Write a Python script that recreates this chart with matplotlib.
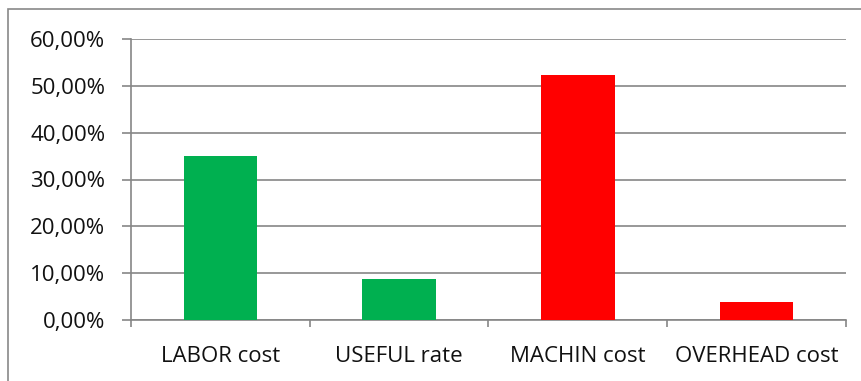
import matplotlib.pyplot as plt
from matplotlib.patches import Rectangle
from matplotlib.ticker import FuncFormatter, FixedLocator

categories = ['LABOR cost', 'USEFUL rate', 'MACHIN cost', 'OVERHEAD cost']
shares = [35.0, 8.8, 52.3, 3.85]
colors = ['#00b050', '#00b050', '#ff0000', '#ff0000']

plt.rcParams['font.family'] = ['Open Sans', 'DejaVu Sans']
W, H = 861, 381
fig = plt.figure(figsize=(W / 100, H / 100), dpi=100)

# outer chart frame
fig.patches.append(Rectangle((8 / W, -0.05), 1.0, (H - 9) / H + 0.05,
                             transform=fig.transFigure, fill=False,
                             edgecolor='#898989', linewidth=1.2))

ax = fig.add_axes([131 / W, (H - 320) / H, (846 - 131) / W, (320 - 39) / H])
x = range(len(categories))
ax.bar(x, shares, width=0.41, color=colors, zorder=3)

ax.set_xlim(-0.5, len(categories) - 0.5)
ax.set_ylim(0, 60)
ax.set_yticks(range(0, 61, 10))
ax.yaxis.set_major_formatter(FuncFormatter(lambda v, _: f'{v:.2f}%'.replace('.', ',')))
ax.grid(axis='y', color='#868686', linewidth=1.2, zorder=0)

ax.xaxis.set_major_locator(FixedLocator([i - 0.5 for i in range(len(categories) + 1)]))
ax.xaxis.set_major_formatter(FuncFormatter(lambda v, _: ''))
ax.xaxis.set_minor_locator(FixedLocator(list(x)))
ax.set_xticklabels(categories, minor=True)
ax.tick_params(axis='x', which='major', length=5, color='#868686', width=1.2)
ax.tick_params(axis='x', which='minor', length=0, pad=18.5, labelsize=16, labelcolor='#111111')
ax.tick_params(axis='y', length=6.5, color='#868686', width=1.2, pad=12, labelsize=16,
               labelcolor='#111111')

for side in ['top', 'right']:
    ax.spines[side].set_visible(False)
for side in ['left', 'bottom']:
    ax.spines[side].set_color('#868686')
    ax.spines[side].set_linewidth(1.2)

fig.savefig('out.png', dpi=100)
